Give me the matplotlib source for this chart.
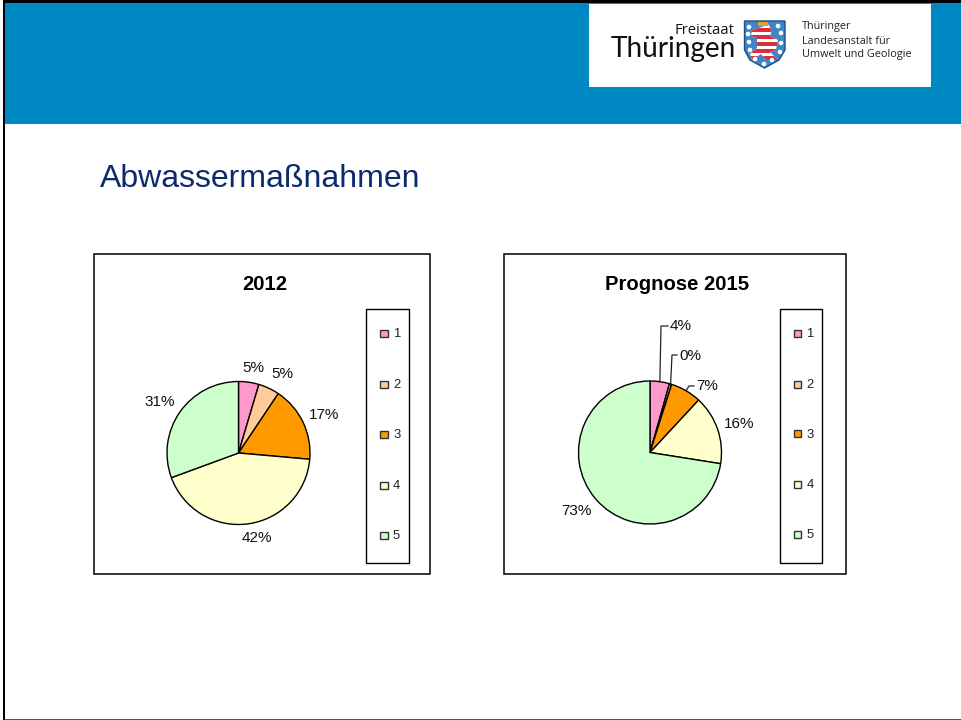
import matplotlib
matplotlib.use('Agg')
import matplotlib.pyplot as plt
from matplotlib.patches import Rectangle, Polygon, Circle
import numpy as np

plt.rcParams['font.family'] = ['Liberation Sans', 'DejaVu Sans']

W, H = 961, 720

legend_labels = ['1', '2', '3', '4', '5']
colors = ['#FF99CC', '#FFCC99', '#FF9900', '#FFFFCC', '#CCFFCC']

title_left = '2012'
values_left = [4.6, 4.8, 17.0, 43.0, 30.6]
labels_left = ['5%', '5%', '17%', '42%', '31%']

title_right = 'Prognose 2015'
values_right = [4.4, 0.5, 7.0, 15.6, 72.5]
labels_right = ['4%', '0%', '7%', '16%', '73%']

fig = plt.figure(figsize=(W / 100, H / 100), dpi=100, facecolor='white')
bg = fig.add_axes([0, 0, 1, 1])
bg.set_xlim(0, W)
bg.set_ylim(H, 0)
bg.axis('off')


def box(x0, y0, x1, y1, fc='white', ec='black', lw=1.0, z=1):
    bg.add_patch(Rectangle((x0, y0), x1 - x0, y1 - y0, fc=fc, ec=ec, lw=lw, zorder=z))


def draw_pie(cx, cy, r, values, labels, label_pos, leaders=None):
    # eigene Achse, damit der Kreis genau auf den Pixeln sitzt
    ax = fig.add_axes([(cx - r - 2) / W, 1 - (cy + r + 2) / H, (2 * r + 4) / W, (2 * r + 4) / H])
    wedges, _ = ax.pie(values, colors=colors, startangle=90, counterclock=False, radius=r,
                       wedgeprops=dict(edgecolor='black', linewidth=1.0), frame=True)
    ax.set_xlim(-r - 2, r + 2)
    ax.set_ylim(-r - 2, r + 2)
    ax.axis('off')
    for text, (x, y) in zip(labels, label_pos):
        bg.text(x, y, text, ha='center', va='center', fontsize=11, color='#111111', zorder=6)
    if leaders:
        for i, pts in leaders.items():
            mid = np.deg2rad((wedges[i].theta1 + wedges[i].theta2) / 2)
            start = (cx + r * np.cos(mid), cy - r * np.sin(mid))
            xs = [start[0]] + [p[0] for p in pts]
            ys = [start[1]] + [p[1] for p in pts]
            bg.plot(xs, ys, color='#222222', lw=0.9, zorder=6)


def draw_legend(x0, y0, x1, y1, key_x, rows):
    box(x0, y0, x1, y1, lw=1.0, z=2)
    for name, col, y in zip(legend_labels, colors, rows):
        box(key_x, y - 3.5, key_x + 7.5, y + 3.5, fc=col, ec='#333333', lw=1.0, z=3)
        bg.text(key_x + 13, y + 1, name, ha='left', va='center', fontsize=9.4, color='#222222', zorder=3)


def draw_crest():
    shield = [(744.5, 21), (785, 21), (785, 50), (779, 60), (764.5, 68), (750, 60), (744.5, 50)]
    patch = Polygon(shield, closed=True, fc='#3E86C6', ec='#1D4E86', lw=1, zorder=3)
    bg.add_patch(patch)
    # Loewe als gestreifte Flaeche
    lion = Polygon([(752, 30), (762, 27), (768, 24), (772, 30), (770, 36), (778, 40), (776, 50),
                    (770, 52), (778, 60), (766, 60), (761, 54), (752, 60), (750, 54), (757, 48),
                    (757, 38), (751, 36)], closed=True, fc='white', ec='none', zorder=4)
    bg.add_patch(lion)
    for y0 in range(28, 62, 7):
        stripe = Rectangle((745, y0), 40, 3.5, fc='#D8303A', ec='none', zorder=5)
        bg.add_patch(stripe)
        stripe.set_clip_path(lion)
    bg.add_patch(Rectangle((758, 21.5), 10, 4, fc='#E0A030', ec='none', zorder=5))
    for x, y in [(749, 27), (778, 26), (781, 33), (749, 42), (781, 43), (750, 50), (780, 52),
                 (755, 59), (772, 60), (764, 64), (748, 34)]:
        bg.add_patch(Circle((x, y), 2.3, fc='white', ec='none', zorder=6))


# Seitenrahmen und Kopfband
bg.add_patch(Rectangle((5, 3), W - 5, 121, fc='#0088C2', ec='none', zorder=1))
bg.add_patch(Rectangle((3, 0), 2.2, H, fc='black', ec='none', zorder=2))
bg.add_patch(Rectangle((3, 0), W - 3, 3.2, fc='black', ec='none', zorder=2))
bg.add_patch(Rectangle((5, 718.7), W - 5, 1.3, fc='#555555', ec='none', zorder=2))
bg.add_patch(Rectangle((589, 4), 342, 83, fc='white', ec='none', zorder=2))

# Logo
bg.text(735, 30, 'Freistaat', ha='right', va='center', fontsize=10.6, family='Open Sans', color='#111111', zorder=3)
bg.text(736, 49.5, 'Thüringen', ha='right', va='center', fontsize=20.2, family='Lato', color='#111111', zorder=3)
for y, line in zip([27, 41, 55], ['Thüringer', 'Landesanstalt für', 'Umwelt und Geologie']):
    bg.text(802, y, line, ha='left', va='center', fontsize=7.85, family='Open Sans', color='#222222', zorder=3)
draw_crest()

# Titel
bg.text(100, 179, 'Abwassermaßnahmen', ha='left', va='center', fontsize=23, color='#0B2A6F', zorder=3)

# linkes Diagramm
box(94, 254, 430, 574, lw=1.1)
bg.text(264.5, 284, title_left, ha='center', va='center', fontsize=14.6, fontweight='bold', color='black', zorder=3)
draw_legend(366, 309, 408.5, 563, 380, [333, 384.5, 434, 485, 535])
draw_pie(238.5, 453, 71.5, values_left, labels_left,
         [(253, 368), (282.5, 374), (324, 415), (256.5, 538), (160, 402)])

# rechtes Diagramm
box(504, 254, 845.5, 574, lw=1.1)
bg.text(677, 284, title_right, ha='center', va='center', fontsize=14.6, fontweight='bold', color='black', zorder=3)
draw_legend(780, 309, 822, 562.5, 793.5, [333, 384, 433.5, 484.5, 534])
draw_pie(650, 452.5, 71.5, values_right, labels_right,
         [(680.5, 326.5), (690, 356), (707.5, 386), (739, 424), (576, 511)],
         leaders={0: [(661, 326), (668, 326)], 1: [(672, 355), (677, 355)], 2: [(689, 386), (694, 386)]})

fig.savefig('out.png', dpi=100)
